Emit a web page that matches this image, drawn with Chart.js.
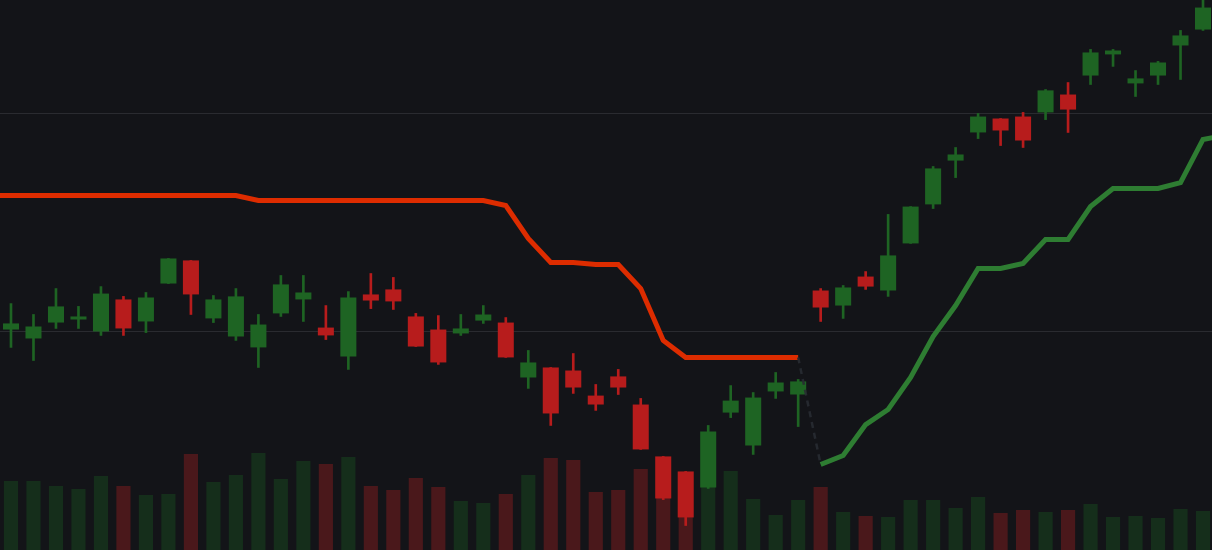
<!DOCTYPE html>
<html>
<head>
<meta charset="utf-8">
<script src="https://cdn.jsdelivr.net/npm/chart.js@4/dist/chart.umd.min.js"></script>
<style>
  html, body { margin: 0; padding: 0; background: #131418; }
  #wrap { width: 1212px; height: 550px; }
</style>
</head>
<body>
<div id="wrap"><canvas id="chart"></canvas></div>
<script>
// first and last label are just outside the view, only the trend line uses them
const labels = [
  '02-28', '03-01', '03-04', '03-05', '03-06', '03-07', '03-08', '03-11', '03-12', '03-13',
  '03-14', '03-15', '03-18', '03-19', '03-20', '03-21', '03-22', '03-25', '03-26', '03-27',
  '03-28', '03-29', '04-01', '04-02', '04-03', '04-04', '04-05', '04-08', '04-09', '04-10',
  '04-11', '04-12', '04-15', '04-16', '04-17', '04-18', '04-19', '04-22', '04-23', '04-24',
  '04-25', '04-26', '04-29', '04-30', '05-01', '05-02', '05-03', '05-06', '05-07', '05-08',
  '05-09', '05-10', '05-13', '05-14', '05-15', '05-16'
];

const opens = [null,
  150.09, 149.68, 150.41, 150.55, 150.00, 151.47, 150.46, 152.20, 153.26, 150.60,
  149.77, 149.27, 150.83, 151.47, 150.18, 148.85, 151.70, 151.93, 150.69, 150.09,
  149.91, 150.50, 150.41, 147.89, 148.35, 148.21, 147.06, 147.94, 146.65, 144.27,
  143.58, 142.84, 146.28, 144.77, 147.25, 147.11, 151.88, 151.19, 152.52, 151.88,
  154.04, 155.83, 157.84, 159.13, 159.77, 159.86, 160.05, 160.87, 161.74, 162.71,
  161.38, 161.74, 163.12, 163.85,
null];
const highs = [null,
  151.28, 150.78, 151.97, 151.15, 152.06, 151.61, 151.79, 153.35, 153.26, 151.65,
  151.97, 150.78, 152.57, 152.57, 151.19, 151.83, 152.66, 152.48, 150.83, 150.73,
  150.78, 151.19, 150.64, 149.13, 148.35, 148.99, 147.57, 148.26, 146.93, 144.27,
  143.58, 145.69, 147.52, 147.20, 148.12, 147.80, 151.97, 152.11, 152.75, 155.37,
  155.73, 157.57, 158.44, 160.00, 159.77, 160.05, 161.10, 161.42, 162.94, 162.94,
  161.97, 162.39, 163.81, 165.41,
null];
const lows = [null,
  149.27, 148.67, 150.14, 150.14, 149.82, 149.82, 149.95, 152.20, 150.78, 150.41,
  149.59, 148.35, 150.69, 150.46, 149.63, 148.26, 151.05, 151.01, 149.31, 148.49,
  149.82, 150.37, 148.81, 147.39, 145.69, 147.16, 146.38, 147.11, 144.59, 142.29,
  141.10, 142.80, 146.05, 144.36, 146.93, 145.64, 150.46, 150.60, 151.93, 151.61,
  154.04, 155.64, 157.06, 158.85, 158.53, 158.44, 159.72, 159.13, 161.33, 162.16,
  160.78, 161.33, 161.56, 163.81,
null];
const closes = [null,
  150.37, 150.23, 151.15, 150.69, 151.74, 150.14, 151.56, 153.35, 151.70, 151.47,
  151.61, 150.32, 152.16, 151.79, 149.82, 151.56, 151.42, 151.38, 149.31, 148.58,
  150.14, 150.78, 148.81, 148.58, 146.24, 147.43, 146.65, 147.43, 144.59, 142.34,
  141.47, 145.41, 146.83, 146.97, 147.66, 147.71, 151.10, 152.02, 152.06, 153.49,
  155.73, 157.48, 158.12, 159.86, 159.22, 158.76, 161.06, 160.18, 162.80, 162.89,
  161.61, 162.34, 163.58, 164.86,
null];
// volume in millions
const volumes = [null,
  6.9, 6.9, 6.4, 6.1, 7.4, 6.4, 5.5, 5.6, 9.6, 6.8,
  7.5, 9.7, 7.1, 8.9, 8.6, 9.3, 6.4, 6.0, 7.2, 6.3,
  4.9, 4.7, 5.6, 7.5, 9.2, 9.0, 5.8, 6.0, 8.1, 7.5,
  6.0, 8.0, 7.9, 5.1, 3.5, 5.0, 6.3, 3.8, 3.4, 3.3,
  5.0, 5.0, 4.2, 5.3, 3.7, 4.0, 3.8, 4.0, 4.6, 3.3,
  3.4, 3.2, 4.1, 3.9,
null];
const supertrend = [156.24,
  156.24, 156.24, 156.24, 156.24, 156.24, 156.24, 156.24, 156.24, 156.24, 156.24,
  156.24, 156.01, 156.01, 156.01, 156.01, 156.01, 156.01, 156.01, 156.01, 156.01,
  156.01, 156.01, 155.78, 154.27, 153.17, 153.17, 153.07, 153.07, 151.97, 149.59,
  148.81, 148.81, 148.81, 148.81, 148.81, 148.81, 143.90, 144.31, 145.73, 146.42,
  147.89, 149.77, 151.19, 152.89, 152.89, 153.12, 154.22, 154.22, 155.73, 156.56,
  156.56, 156.56, 156.83, 158.81,
159.00];

const GREEN = '#1e6423';
const RED = '#b71c1c';
const VOL_GREEN = '#152e1b';
const VOL_RED = '#4a181b';
const TREND_UP = '#2e7d32';
const TREND_DOWN = '#dd2c00';

// x position = label index - 1, so the first visible candle sits at 0
const pos = i => i - 1;
const isUp = i => closes[i] >= opens[i];
const candleColor = ctx => isUp(ctx.raw.i) ? GREEN : RED;
const trendUp = i => closes[i] == null ? (i > 27) : supertrend[i] < closes[i];
const flip = ctx => trendUp(ctx.p0DataIndex) !== trendUp(ctx.p1DataIndex);

const bodies = [], wicks = [], vols = [];
labels.forEach((d, i) => {
  if (opens[i] == null) return;
  bodies.push({ x: pos(i), y: [opens[i], closes[i]], i: i });
  wicks.push({ x: pos(i), y: [lows[i], highs[i]], i: i });
  vols.push({ x: pos(i), y: volumes[i], i: i });
});
const trendPts = supertrend.map((v, i) => ({ x: pos(i), y: v }));

new Chart(document.getElementById('chart'), {
  data: {
    datasets: [
      {
        type: 'line',
        label: 'Supertrend',
        data: trendPts,
        yAxisID: 'y',
        order: 0,
        borderWidth: 5,
        pointRadius: 0,
        tension: 0,
        borderColor: TREND_DOWN,
        segment: {
          borderColor: ctx => flip(ctx) ? 'rgba(40, 43, 50, 0.9)' : (trendUp(ctx.p0DataIndex) ? TREND_UP : TREND_DOWN),
          borderDash: ctx => flip(ctx) ? [6, 5] : undefined,
          borderWidth: ctx => flip(ctx) ? 2.5 : 5
        }
      },
      {
        type: 'bar',
        label: 'Body',
        data: bodies,
        yAxisID: 'y',
        order: 1,
        grouped: false,
        categoryPercentage: 1,
        barPercentage: 0.713,
        backgroundColor: candleColor,
        borderWidth: 0,
        borderSkipped: false
      },
      {
        type: 'bar',
        label: 'Wick',
        data: wicks,
        yAxisID: 'y',
        order: 2,
        grouped: false,
        barThickness: 2,
        backgroundColor: candleColor,
        borderWidth: 0,
        borderSkipped: false
      },
      {
        type: 'bar',
        label: 'Volume',
        data: vols,
        yAxisID: 'vol',
        order: 3,
        grouped: false,
        categoryPercentage: 1,
        barPercentage: 0.63,
        backgroundColor: ctx => isUp(ctx.raw.i) ? VOL_GREEN : VOL_RED,
        borderWidth: 0
      }
    ]
  },
  options: {
    responsive: true,
    maintainAspectRatio: false,
    animation: false,
    layout: { padding: 0 },
    plugins: {
      legend: { display: false },
      tooltip: { enabled: false }
    },
    scales: {
      x: {
        type: 'linear',
        min: -0.489,
        max: 53.40,
        offset: false,
        display: false
      },
      y: {
        position: 'right',
        min: 139.977,
        max: 165.206,
        ticks: { display: false, stepSize: 10, includeBounds: false },
        border: { display: false },
        grid: {
          drawTicks: false,
          lineWidth: 1,
          color: ctx => (ctx.tick && ctx.tick.value === 140) ? 'transparent' : '#2a2b30'
        }
      },
      vol: {
        display: false,
        min: 0,
        max: 55
      }
    }
  }
});
</script>
</body>
</html>
